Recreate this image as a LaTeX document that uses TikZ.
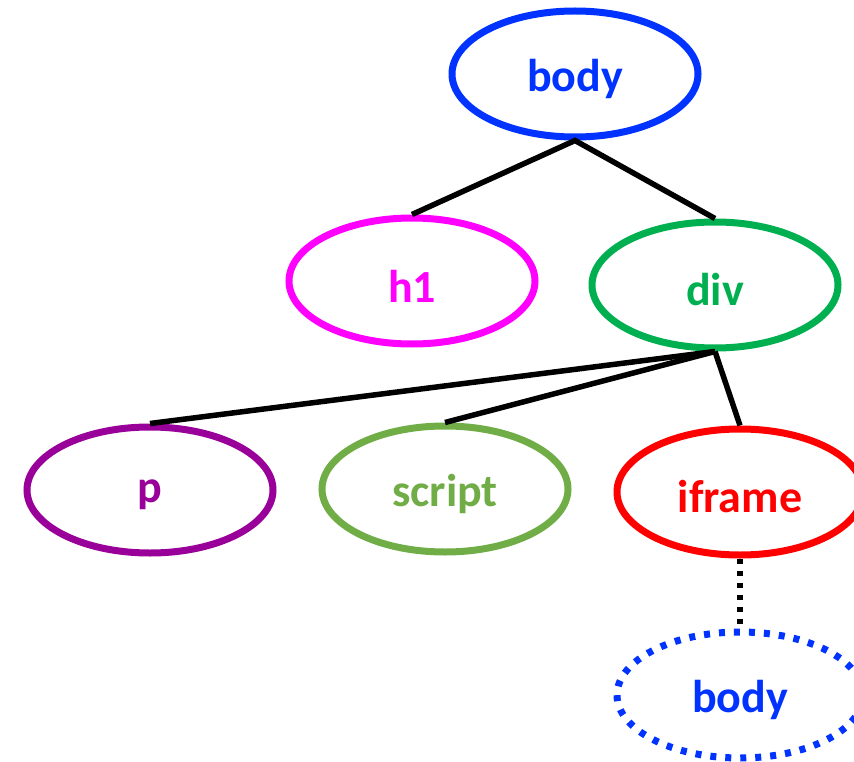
\documentclass[tikz,border=0pt]{standalone}
\usepackage{fontspec}
\setmainfont{Carlito}
\usetikzlibrary{shapes.geometric}
\definecolor{cbody}{RGB}{0,51,255}
\definecolor{ch1}{RGB}{255,0,255}
\definecolor{cdiv}{RGB}{0,176,80}
\definecolor{cp}{RGB}{153,0,153}
\definecolor{cscript}{RGB}{112,173,71}
\definecolor{ciframe}{RGB}{255,0,0}
\newcommand{\lowtxt}[1]{\raisebox{-5pt}[\height][\depth]{#1}}
\tikzset{
  tag/.style={ellipse, draw=#1, text=#1, line width=7pt, minimum width=246pt, minimum height=126pt, inner sep=0pt, font=\fontsize{46}{54}\selectfont\bfseries},
  edge/.style={line width=5.5pt, black},
}
\begin{document}
\begin{tikzpicture}[x=1pt,y=-1pt]
\clip (0,0) rectangle (854,762);
\useasboundingbox (0,0) rectangle (854,762);
\node[tag=cbody] (body) at (575,74) {\lowtxt{body}};
\node[tag=ch1] (h1) at (412,281) {\lowtxt{h1}};
\node[tag=cdiv] (div) at (715,285) {\lowtxt{div}};
\node[tag=cp] (p) at (150,490) {\lowtxt{p}};
\node[tag=cscript] (script) at (445,489) {\lowtxt{script}};
\node[tag=ciframe] (iframe) at (740,492) {\lowtxt{iframe}};
\node[tag=cbody, dash pattern=on 6pt off 9pt] (body2) at (740,695) {\lowtxt{body}};
\draw[edge] (h1.north) -- (body.south) -- (div.north);
\draw[edge] (p.north) -- (div.south);
\draw[edge] (script.north) -- (div.south);
\draw[edge] (div.south) -- (iframe.north);
\draw[edge, dash pattern=on 5pt off 7pt] (iframe.south) -- (body2.north);
\end{tikzpicture}
\end{document}
